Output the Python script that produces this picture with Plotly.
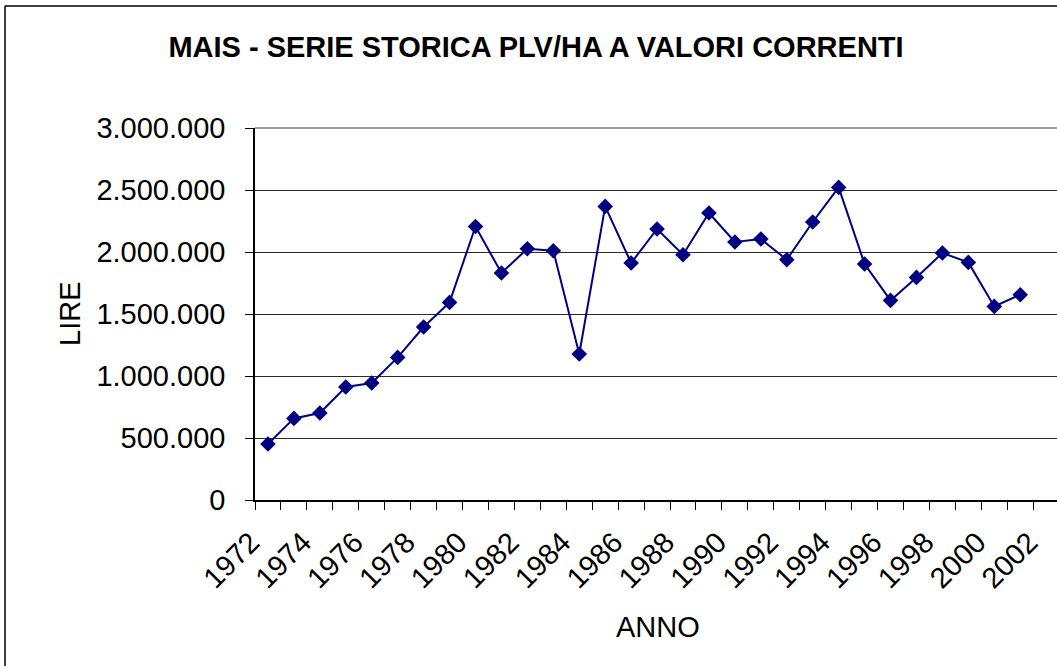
import plotly.graph_objects as go

# ---- data ----
years = list(range(1972, 2002))
plv_ha = [451600, 658000, 701600, 911300, 943500, 1150000, 1395000, 1593500,
          2206000, 1830600, 2026600, 2010500, 1177400, 2367700, 1911300, 2185500,
          1978200, 2314500, 2080600, 2104800, 1937900, 2241900, 2521000, 1903200,
          1609700, 1795200, 1992000, 1916100, 1561300, 1655600]
tick_years = list(range(1972, 2003, 2))
tick_labels = [str(y) for y in tick_years]
y_ticks = [0, 500000, 1000000, 1500000, 2000000, 2500000, 3000000]

title_text = "MAIS - SERIE STORICA PLV/HA A VALORI CORRENTI"
x_title = "ANNO"
y_title = "LIRE"

# ---- layout geometry (pixels) ----
W, H = 1057, 666
L, T, B = 255, 128, 166
PW = W - L
PH = H - T - B
FONT = "Liberation Sans, Arial, sans-serif"
FS = 29


def px_x(px):
    return (px - L) / PW


def px_y(py):
    return (H - B - py) / PH


fig = go.Figure()
fig.add_trace(go.Scatter(
    x=years, y=plv_ha, mode="lines+markers",
    line=dict(color="#000080", width=2),
    marker=dict(symbol="diamond", size=12, color="#000080"),
    showlegend=False, hoverinfo="skip",
))

fig.update_layout(
    width=W, height=H,
    margin=dict(l=L, r=0, t=T, b=B, pad=0),
    paper_bgcolor="white", plot_bgcolor="white",
    separators=",.",
    font=dict(family=FONT, size=FS, color="black"),
    title=dict(text=f"<b>{title_text}</b>", x=536 / W, xanchor="center",
               y=1 - 47 / H, yanchor="middle", yref="container",
               font=dict(family=FONT, size=FS, color="black")),
    xaxis=dict(
        range=[1971.5, 1971.5 + PW / 25.94],
        tickmode="array", tickvals=tick_years, ticktext=tick_labels,
        tickangle=-45, ticks="", showgrid=False, zeroline=False,
        showline=True, linecolor="black", linewidth=1.5,
        ticklabelstandoff=12, ticklabelshift=-17,
        tickfont=dict(family=FONT, size=FS, color="black"),
        minor=dict(tick0=1971.5, dtick=1, ticks="outside", ticklen=8,
                   tickcolor="black", tickwidth=1, showgrid=False),
    ),
    yaxis=dict(
        range=[0, 3000000], tickmode="array", tickvals=y_ticks,
        tickformat=",d", ticks="outside", ticklen=8, tickcolor="black",
        showline=True, linecolor="black", linewidth=1.5,
        showgrid=True, gridcolor="#2a2a2a", gridwidth=1, zeroline=False,
        ticklabelstandoff=14,
        tickfont=dict(family=FONT, size=FS, color="black"),
    ),
    annotations=[
        dict(text=x_title, x=px_x(658), y=px_y(627), xref="paper", yref="paper",
             showarrow=False, xanchor="center", yanchor="middle",
             font=dict(family=FONT, size=FS, color="black")),
        dict(text=y_title, x=px_x(70), y=px_y(314), xref="paper", yref="paper",
             showarrow=False, xanchor="center", yanchor="middle", textangle=-90,
             font=dict(family=FONT, size=FS, color="black")),
    ],
    shapes=[
        dict(type="line", xref="paper", yref="paper", x0=0, x1=1, y0=1, y1=1,
             line=dict(color="#9a9a9a", width=2), layer="above"),
        # outer chart frame (top and left edges; right/bottom lie outside the picture)
        dict(type="line", xref="paper", yref="paper",
             x0=px_x(5), x1=px_x(W + 30), y0=px_y(6), y1=px_y(6),
             line=dict(color="black", width=1.5), layer="above"),
        dict(type="line", xref="paper", yref="paper",
             x0=px_x(5), x1=px_x(5), y0=px_y(6), y1=px_y(H + 30),
             line=dict(color="black", width=1.5), layer="above"),
    ],
)

fig.write_html(
    "out.html",
    config={"displayModeBar": False},
    post_script="document.body.style.margin='0';document.body.style.overflow='hidden';",
)
